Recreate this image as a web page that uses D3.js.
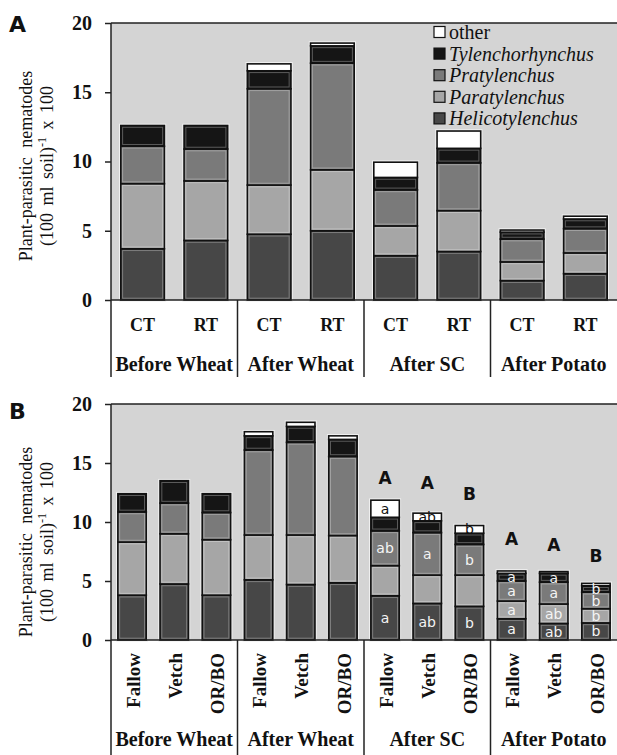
<!DOCTYPE html>
<html>
<head>
<meta charset="utf-8">
<script src="https://cdn.jsdelivr.net/npm/d3@7"></script>
<style>
  body { margin: 0; background: #fff; }
  svg { display: block; }
</style>
</head>
<body>
<svg id="chart" width="617" height="755"></svg>
<script>
// Species, bottom to top of each stack
const species = ["Helicotylenchus", "Paratylenchus", "Pratylenchus", "Tylenchorhynchus", "other"];
const speciesColors = ["#474747", "#a6a6a6", "#7a7a7a", "#151515", "#ffffff"];
const stages = ["Before Wheat", "After Wheat", "After SC", "After Potato"];
const tillage = ["CT", "RT"];
const covers = ["Fallow", "Vetch", "OR/BO"];
const yTicks = [0, 5, 10, 15, 20];

// Panel A: one value per bar (CT, RT for each stage)
const helicoA = [3.7, 4.3, 4.75, 5.0, 3.2, 3.5, 1.4, 1.9];
const paratyA = [4.7, 4.3, 3.55, 4.4, 2.15, 2.95, 1.35, 1.5];
const pratyA  = [2.7, 2.3, 6.95, 7.7, 2.6, 3.45, 1.65, 1.75];
const tylenA  = [1.5, 1.7, 1.3, 1.25, 0.9, 1.05, 0.5, 0.7];
const otherA  = [0, 0, 0.5, 0.2, 1.1, 1.25, 0.15, 0.2];

// Panel B: one value per bar (Fallow, Vetch, OR/BO for each stage)
const helicoB = [3.8, 4.75, 3.8, 5.1, 4.7, 4.85, 3.75, 3.1, 2.85, 1.8, 1.4, 1.45];
const paratyB = [4.5, 4.25, 4.7, 3.8, 4.2, 4.0, 2.55, 2.4, 2.65, 1.5, 1.65, 1.2];
const pratyB  = [2.55, 2.6, 2.3, 7.2, 7.85, 6.7, 2.95, 3.6, 2.6, 1.7, 1.85, 1.4];
const tylenB  = [1.55, 1.9, 1.6, 1.2, 1.35, 1.45, 1.15, 1.0, 0.95, 0.65, 0.75, 0.55];
const otherB  = [0, 0, 0, 0.35, 0.35, 0.3, 1.45, 0.65, 0.65, 0.2, 0.15, 0.2];

// Panel B significance letters (inside segments and above bars)
const helicoLetters = ["", "", "", "", "", "", "a", "ab", "b", "a", "ab", "b"];
const paratyLetters = ["", "", "", "", "", "", "", "", "", "a", "ab", "b"];
const pratyLetters  = ["", "", "", "", "", "", "ab", "a", "b", "a", "a", "b"];
const tylenLetters  = ["", "", "", "", "", "", "", "", "", "a", "a", "b"];
const otherLetters  = ["", "", "", "", "", "", "a", "ab", "b", "", "", ""];
const capLetters    = ["", "", "", "", "", "", "A", "A", "B", "A", "A", "B"];
const capLetterPos  = [0, 0, 0, 0, 0, 0, 13.7, 13.3, 12.4, 8.6, 8.1, 7.1];

const serif = "'Liberation Serif', 'Times New Roman', serif";
const sans = "'DejaVu Sans', Verdana, sans-serif";
const svg = d3.select("#chart");

function buildRows(cols) {
  return cols[0].map((_, i) => {
    const row = { i: i };
    species.forEach((s, k) => (row[s] = cols[k][i]));
    return row;
  });
}

function drawPanel(opt) {
  const n = opt.rows.length;
  const g = svg.append("g");
  const left = 111, right = 617;

  const y = d3.scaleLinear().domain([0, 20]).range([opt.y0, opt.y20]);
  const x = d3.scaleBand()
    .domain(d3.range(n))
    .range([left, right])
    .paddingInner(opt.pad)
    .paddingOuter(opt.pad / 2);

  // plot background
  g.append("rect")
    .attr("x", left).attr("y", y(20))
    .attr("width", right - left).attr("height", y(0) - y(20))
    .attr("fill", "#d4d4d4");

  // stacked bars
  const stacked = d3.stack().keys(species)(opt.rows);
  const totals = opt.rows.map((r) => d3.sum(species, (s) => r[s]));

  g.selectAll(".halo")
    .data(totals)
    .join("rect")
    .attr("x", (d, i) => x(i)).attr("y", (d) => y(d))
    .attr("width", x.bandwidth()).attr("height", (d) => y(0) - y(d))
    .attr("fill", "none").attr("stroke", "#f2f2f2").attr("stroke-width", 3.5);

  stacked.forEach((layer, k) => {
    const segs = layer.filter((d) => d[1] - d[0] > 0);
    g.selectAll(null)
      .data(segs)
      .join("rect")
      .attr("x", (d) => x(d.data.i)).attr("y", (d) => y(d[1]))
      .attr("width", x.bandwidth()).attr("height", (d) => y(d[0]) - y(d[1]))
      .attr("fill", speciesColors[k])
      .attr("stroke", "#111").attr("stroke-width", 1.6);
    // faint inner highlight
    g.selectAll(null)
      .data(segs.filter((d) => y(d[0]) - y(d[1]) > 5))
      .join("rect")
      .attr("x", (d) => x(d.data.i) + 1.8).attr("y", (d) => y(d[1]) + 1.8)
      .attr("width", x.bandwidth() - 3.6).attr("height", (d) => y(d[0]) - y(d[1]) - 3.6)
      .attr("fill", "none")
      .attr("stroke", "rgba(255,255,255,0.3)").attr("stroke-width", 1);
  });

  // y axis
  const axis = g.append("g")
    .attr("transform", `translate(${left},0)`)
    .call(d3.axisLeft(y).tickValues(yTicks).tickSize(6).tickSizeOuter(0).tickPadding(13));
  axis.select(".domain").remove();
  axis.selectAll(".tick line").attr("stroke", "#222").attr("stroke-width", 1.5);
  axis.selectAll(".tick text")
    .attr("fill", "#111")
    .style("font-family", serif).style("font-size", "20px").style("font-weight", "bold");

  // frame lines: top, baseline, left axis reaching down through label area
  g.append("line").attr("x1", left).attr("x2", right).attr("y1", y(20)).attr("y2", y(20))
    .attr("stroke", "#222").attr("stroke-width", 1.5);
  g.append("line").attr("x1", left).attr("x2", right).attr("y1", y(0)).attr("y2", y(0))
    .attr("stroke", "#222").attr("stroke-width", 1.5);
  g.append("line").attr("x1", left).attr("x2", left).attr("y1", y(20)).attr("y2", opt.labelBottom)
    .attr("stroke", "#222").attr("stroke-width", 1.5);

  // group separators below the axis
  const per = n / stages.length;
  const step = x.step();
  const groupEdge = (k) => left + x.paddingOuter() * step - (x.paddingInner() * step) / 2 + k * per * step;
  g.selectAll(".sep")
    .data([1, 2, 3])
    .join("line")
    .attr("x1", (k) => groupEdge(k)).attr("x2", (k) => groupEdge(k))
    .attr("y1", y(0)).attr("y2", opt.labelBottom)
    .attr("stroke", "#222").attr("stroke-width", 1.5);

  // category labels
  if (opt.rotateLabels) {
    g.selectAll(".cat")
      .data(opt.cats)
      .join("text")
      .attr("transform", (d, i) => `translate(${x(i) + x.bandwidth() / 2 + 1},${opt.catY}) rotate(-90)`)
      .attr("text-anchor", "end").attr("dy", "0.35em")
      .style("font-family", serif).style("font-size", "19px").style("font-weight", "bold")
      .attr("fill", "#111")
      .text((d) => d);
  } else {
    g.selectAll(".cat")
      .data(opt.cats)
      .join("text")
      .attr("x", (d, i) => x(i) + x.bandwidth() / 2).attr("y", opt.catY)
      .attr("text-anchor", "middle")
      .style("font-family", serif).style("font-size", "18px").style("font-weight", "bold")
      .attr("fill", "#111")
      .text((d) => d);
  }

  g.selectAll(".stage")
    .data(stages)
    .join("text")
    .attr("x", (d, k) => (groupEdge(k) + groupEdge(k + 1)) / 2).attr("y", opt.stageY)
    .attr("text-anchor", "middle")
    .style("font-family", serif).style("font-size", "20px").style("font-weight", "bold")
    .attr("fill", "#111")
    .text((d) => d);

  // y title
  const ty = opt.titleY;
  g.append("text")
    .attr("transform", `translate(26,${ty}) rotate(-90)`)
    .attr("text-anchor", "middle").attr("dy", "0.35em")
    .style("font-family", serif).style("font-size", "18px").style("word-spacing", "5px")
    .attr("fill", "#111")
    .text("Plant-parasitic nematodes");
  const t2 = g.append("text")
    .attr("transform", `translate(47,${ty}) rotate(-90)`)
    .attr("text-anchor", "middle").attr("dy", "0.35em")
    .style("font-family", serif).style("font-size", "18px").style("word-spacing", "3px")
    .attr("fill", "#111");
  t2.append("tspan").text("(100 ml soil)");
  t2.append("tspan").attr("dy", -7).style("font-size", "12px").text("-1");
  t2.append("tspan").attr("dy", 7).text(" x 100");

  // panel letter
  g.append("text")
    .attr("x", 9).attr("y", opt.letterY)
    .style("font-family", "'DejaVu Sans', Verdana, sans-serif")
    .style("font-size", "22px").style("font-weight", "bold")
    .attr("fill", "#111")
    .text(opt.letter);

  return { g, x, y, stacked };
}

// ---------- Panel A ----------
const rowsA = buildRows([helicoA, paratyA, pratyA, tylenA, otherA]);
const catsA = stages.flatMap(() => tillage);
const panelA = drawPanel({
  rows: rowsA, cats: catsA, y0: 300, y20: 23, pad: 0.31,
  labelBottom: 377, catY: 331, stageY: 371, rotateLabels: false,
  titleY: 166, letter: "A", letterY: 32
});

// legend (top to bottom: other ... Helicotylenchus)
const legendItems = species.map((s, k) => ({ name: s, color: speciesColors[k] })).reverse();
const legend = panelA.g.append("g").attr("transform", "translate(434,32)");
legendItems.forEach((d, j) => {
  const row = legend.append("g").attr("transform", `translate(0,${j * 21.6})`);
  row.append("rect")
    .attr("x", 0).attr("y", -5.5).attr("width", 11).attr("height", 11)
    .attr("fill", d.color).attr("stroke", "#111").attr("stroke-width", 1.2);
  row.append("text")
    .attr("x", 15).attr("y", 0).attr("dy", "0.35em")
    .style("font-family", serif).style("font-size", "20px")
    .style("font-style", d.name === "other" ? "normal" : "italic")
    .attr("fill", "#111")
    .text(d.name);
});

// ---------- Panel B ----------
const rowsB = buildRows([helicoB, paratyB, pratyB, tylenB, otherB]);
const catsB = stages.flatMap(() => covers);
const panelB = drawPanel({
  rows: rowsB, cats: catsB, y0: 640, y20: 404, pad: 0.325,
  labelBottom: 755, catY: 653, stageY: 746, rotateLabels: true,
  titleY: 542, letter: "B", letterY: 419
});

// segment letters
const letterCols = [helicoLetters, paratyLetters, pratyLetters, tylenLetters, otherLetters];
panelB.stacked.forEach((layer, k) => {
  const items = layer.filter((d) => letterCols[k][d.data.i] !== "");
  panelB.g.selectAll(null)
    .data(items)
    .join("text")
    .attr("x", (d) => panelB.x(d.data.i) + panelB.x.bandwidth() / 2)
    .attr("y", (d) => panelB.y((d[0] + d[1]) / 2))
    .attr("dy", "0.36em")
    .attr("text-anchor", "middle")
    .style("font-family", sans).style("font-size", "14px")
    .attr("fill", species[k] === "other" ? "#111" : "#f4f4f4")
    .text((d) => letterCols[k][d.data.i]);
});

// letters above bars
panelB.g.selectAll(".cap")
  .data(capLetters.map((c, i) => ({ c, i, v: capLetterPos[i] })).filter((d) => d.c !== ""))
  .join("text")
  .attr("x", (d) => panelB.x(d.i) + panelB.x.bandwidth() / 2)
  .attr("y", (d) => panelB.y(d.v))
  .attr("dy", "0.36em")
  .attr("text-anchor", "middle")
  .style("font-family", sans).style("font-size", "17px").style("font-weight", "bold")
  .attr("fill", "#111")
  .text((d) => d.c);
</script>
</body>
</html>
